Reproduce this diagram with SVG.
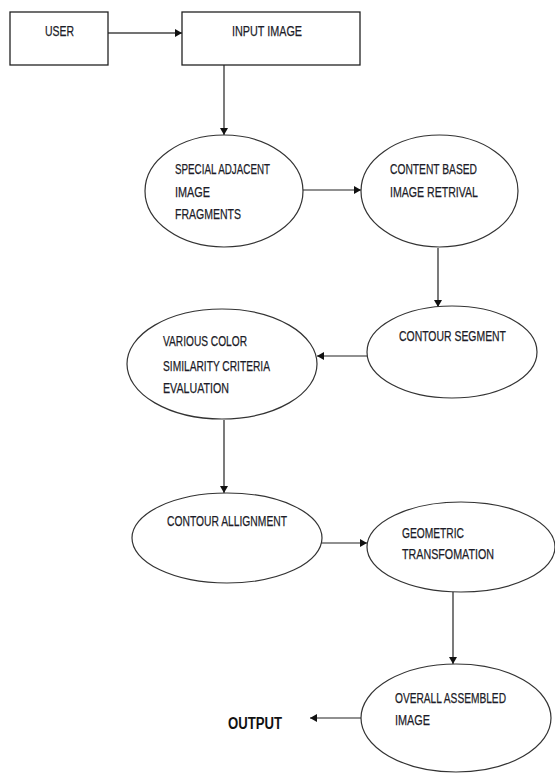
<svg xmlns="http://www.w3.org/2000/svg" width="555" height="774" viewBox="0 0 555 774">
<defs>
<marker id="ah" markerWidth="7" markerHeight="8" refX="7" refY="4" orient="auto" markerUnits="userSpaceOnUse">
<path d="M0,0 L7,4 L0,8 z" fill="#111"/>
</marker>
<style>
.box{fill:#fff;stroke:#222;stroke-width:1.3}
.el{fill:#fff;stroke:#333;stroke-width:1.2}
.t{font-family:"Liberation Sans",Arial,sans-serif;font-size:14.5px;fill:#1c1c28;stroke:#1c1c28;stroke-width:0.25}
.b{font-family:"Liberation Sans",Arial,sans-serif;font-size:16px;font-weight:bold;fill:#111}
.c{stroke:#222;stroke-width:1.2;fill:none;marker-end:url(#ah)}
</style>
</defs>
<rect width="555" height="774" fill="#fff"/>
<g id="connectors">
<line class="c" x1="108" y1="33" x2="182" y2="33" style="stroke-width:1.6;stroke:#444"/>
<line class="c" x1="224" y1="65" x2="224" y2="135"/>
<line class="c" x1="303" y1="190" x2="361" y2="190"/>
<line class="c" x1="438" y1="248" x2="438" y2="307"/>
<line class="c" x1="367" y1="356" x2="317" y2="356"/>
<line class="c" x1="224" y1="420" x2="224" y2="493"/>
<line class="c" x1="317" y1="543" x2="367" y2="543"/>
<line class="c" x1="453" y1="592" x2="453" y2="664"/>
<line class="c" x1="361" y1="718" x2="310" y2="718"/>
</g>
<g id="user">
<rect class="box" x="10" y="12" width="98" height="53"/>
<text class="t" x="45" y="35.5" textLength="29" lengthAdjust="spacingAndGlyphs">USER</text>
</g>
<g id="input-image">
<rect class="box" x="182" y="12" width="178" height="53"/>
<text class="t" x="232" y="35.5" textLength="70" lengthAdjust="spacingAndGlyphs">INPUT IMAGE</text>
</g>
<g id="special-adjacent">
<ellipse class="el" cx="224" cy="191" rx="79" ry="56"/>
<text class="t" x="175" y="173.5" textLength="95" lengthAdjust="spacingAndGlyphs">SPECIAL ADJACENT</text>
<text class="t" x="175" y="196.5" textLength="35" lengthAdjust="spacingAndGlyphs">IMAGE</text>
<text class="t" x="175" y="218.5" textLength="66" lengthAdjust="spacingAndGlyphs">FRAGMENTS</text>
</g>
<g id="content-based">
<ellipse class="el" cx="439.5" cy="191" rx="78.5" ry="56"/>
<text class="t" x="390" y="173.5" textLength="87" lengthAdjust="spacingAndGlyphs">CONTENT BASED</text>
<text class="t" x="390" y="196.5" textLength="88" lengthAdjust="spacingAndGlyphs">IMAGE RETRIVAL</text>
</g>
<g id="contour-segment">
<ellipse class="el" cx="452" cy="352" rx="85" ry="46"/>
<text class="t" x="399" y="340.5" textLength="107" lengthAdjust="spacingAndGlyphs">CONTOUR SEGMENT</text>
</g>
<g id="various-color">
<ellipse class="el" cx="222" cy="364" rx="95" ry="55"/>
<text class="t" x="163" y="345.5" textLength="84" lengthAdjust="spacingAndGlyphs">VARIOUS COLOR</text>
<text class="t" x="163" y="370.5" textLength="107" lengthAdjust="spacingAndGlyphs">SIMILARITY CRITERIA</text>
<text class="t" x="163" y="392.5" textLength="66" lengthAdjust="spacingAndGlyphs">EVALUATION</text>
</g>
<g id="contour-allignment">
<ellipse class="el" cx="227" cy="538" rx="95" ry="45"/>
<text class="t" x="167" y="525.5" textLength="120" lengthAdjust="spacingAndGlyphs">CONTOUR ALLIGNMENT</text>
</g>
<g id="geometric">
<ellipse class="el" cx="461" cy="547" rx="94" ry="45"/>
<text class="t" x="402" y="537.5" textLength="62" lengthAdjust="spacingAndGlyphs">GEOMETRIC</text>
<text class="t" x="402" y="558.5" textLength="92" lengthAdjust="spacingAndGlyphs">TRANSFOMATION</text>
</g>
<g id="overall-assembled">
<ellipse class="el" cx="456" cy="718" rx="95" ry="54"/>
<text class="t" x="395" y="702.5" textLength="111" lengthAdjust="spacingAndGlyphs">OVERALL ASSEMBLED</text>
<text class="t" x="395" y="724.5" textLength="35" lengthAdjust="spacingAndGlyphs">IMAGE</text>
</g>
<g id="output">
<text class="b" x="228" y="729" textLength="54" lengthAdjust="spacingAndGlyphs">OUTPUT</text>
</g>
</svg>
